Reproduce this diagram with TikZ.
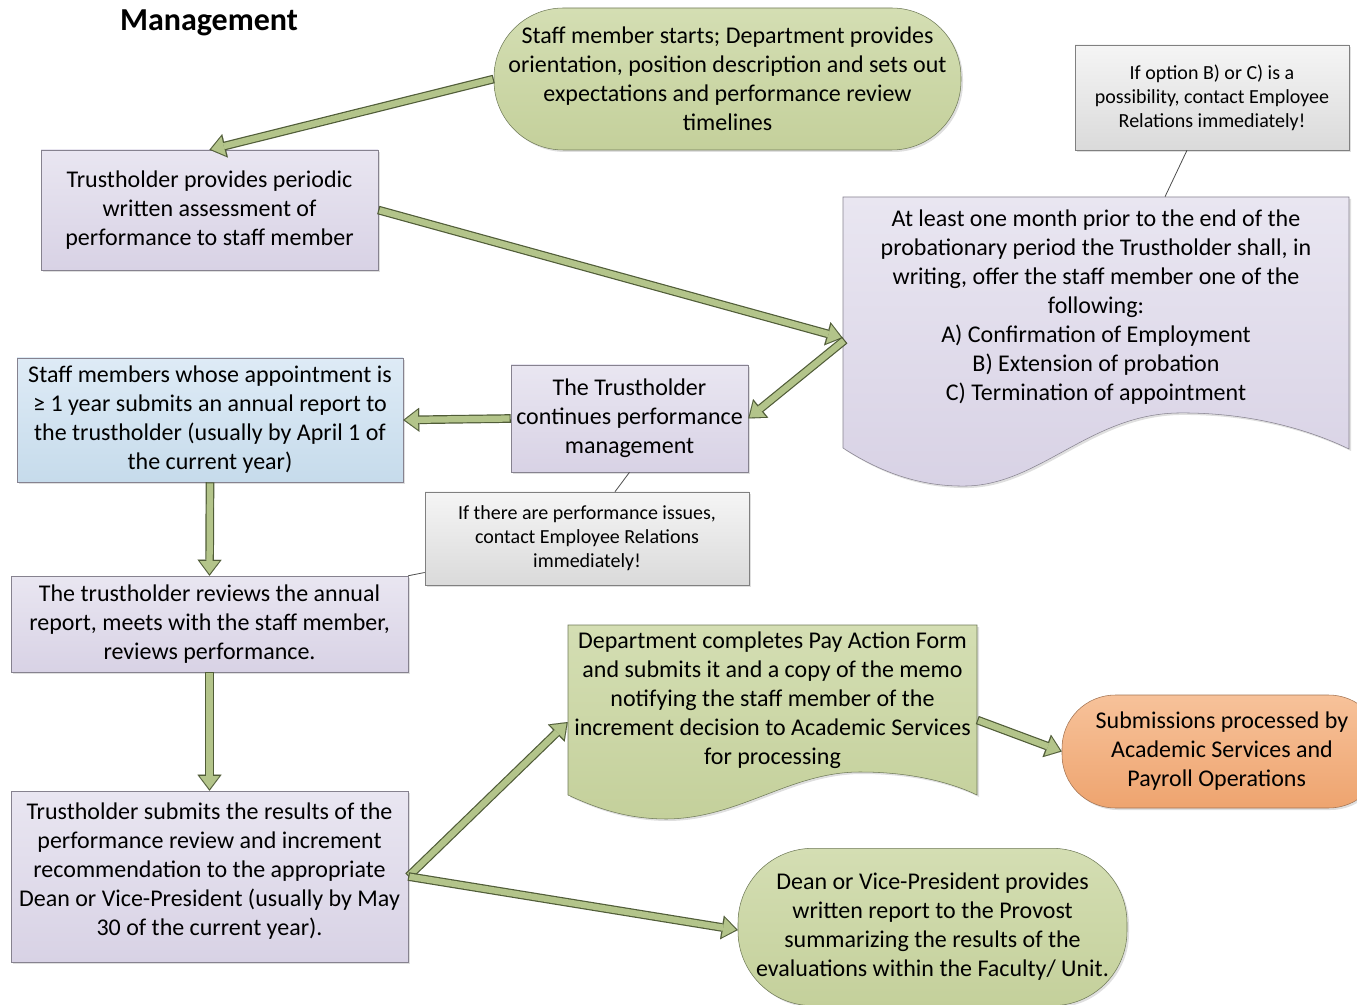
\documentclass[tikz,border=0pt]{standalone}
\usepackage{fontspec}
\setmainfont{Carlito}
\usepackage{xcolor}
\usetikzlibrary{positioning, arrows.meta, calc, shadows}
\definecolor{lavtop}{HTML}{E9E6F1}
\definecolor{lavbot}{HTML}{D8D2E5}
\definecolor{lavline}{HTML}{86828F}
\definecolor{bluetop}{HTML}{DEEBF6}
\definecolor{bluebot}{HTML}{C6DBEB}
\definecolor{greentop}{HTML}{D4DEB3}
\definecolor{greenbot}{HTML}{C4D09B}
\definecolor{greenline}{HTML}{6F7A58}
\definecolor{orangetop}{HTML}{F7C29A}
\definecolor{orangebot}{HTML}{EEA46F}
\definecolor{orangeline}{HTML}{A27352}
\definecolor{graytop}{HTML}{F5F5F5}
\definecolor{graybot}{HTML}{DADADA}
\definecolor{arrowfill}{HTML}{B3C48A}
\definecolor{arrowline}{HTML}{505C38}
\newcommand{\fatarrow}[2]{%
  \draw[flowrim](#1)--(#2);
  \draw[flowbody](#1)--(#2);}

\begin{document}
\begin{tikzpicture}[x=0.75pt, y=-0.75pt,
 font=\fontsize{18}{21.75}\selectfont,
 box/.style={draw=lavline, align=center, inner sep=2pt, top color=lavtop, bottom color=lavbot,
   drop shadow={shadow xshift=1.5pt, shadow yshift=-1.5pt, opacity=0.25}},
 bluebox/.style={box, top color=bluetop, bottom color=bluebot},
 pill/.style={box, draw=greenline, top color=greentop, bottom color=greenbot},
 orangepill/.style={box, draw=orangeline, top color=orangetop, bottom color=orangebot},
 note/.style={box, draw=gray, top color=graytop, bottom color=graybot,
   font=\fontsize{15}{18}\selectfont},
 doctext/.style={align=center, inner sep=0pt},
 docshape/.style={drop shadow={shadow xshift=1.5pt, shadow yshift=-1.5pt, opacity=0.25}},
 flowrim/.style={line width=6.5pt, draw=arrowline,
   -{Triangle[length=12pt, width=18pt, line width=0.01pt]}},
 flowbody/.style={line width=4.7pt, draw=arrowfill, shorten <=0.9pt, shorten >=1.4pt,
   -{Triangle[length=9.6pt, width=14.6pt, line width=0.01pt]}},
 tie/.style={draw=black!70, line width=0.6pt}]
\useasboundingbox (0,0) rectangle (1357,1005);

\node[font=\fontsize{24}{28}\selectfont\bfseries](title) at (209,23){Management};

\node[pill, minimum width=350.25pt, minimum height=106.5pt, rounded corners=52pt](start) at (727.5,79)
  {Staff member starts; Department provides\\orientation, position description and sets out\\expectations and performance review\\timelines};
\node[box, minimum width=252.75pt, minimum height=90pt](assess) at (209.5,210)
  {Trustholder provides periodic\\written assessment of\\performance to staff member};
\node[note, minimum width=205.5pt, minimum height=78.75pt](note1) at (1212,97.5)
  {If option B) or C) is a\\possibility, contact Employee\\Relations immediately!};

% wavy document, right
\path[docshape, draw=lavline, top color=lavtop, bottom color=lavbot]
  (843,197) -- (1349,197) -- (1349,449)
  .. controls (1310,430) and (1250,412) .. (1177,413)
  .. controls (1090,415) and (1040,484) .. (967,486)
  .. controls (920,487) and (880,472) .. (843,448) -- cycle;
\node[doctext, minimum width=379.5pt, minimum height=165pt](offer) at (1096,307)
  {At least one month prior to the end of the\\probationary period the Trustholder shall, in\\writing, offer the staff member one of the\\following:\\A) Confirmation of Employment\\B) Extension of probation\\C) Termination of appointment};

\node[box, minimum width=177.75pt, minimum height=80.25pt](cont) at (629.5,418.5)
  {The Trustholder\\continues performance\\management};
\node[bluebox, draw=lavline, minimum width=289.5pt, minimum height=93pt](annual) at (210,420)
  {Staff members whose appointment is\\≥ 1 year submits an annual report to\\the trustholder (usually by April 1 of\\the current year)};
\node[note, minimum width=243pt, minimum height=69.75pt](note2) at (587,538.5)
  {If there are performance issues,\\contact Employee Relations\\immediately!};
\node[box, minimum width=297.75pt, minimum height=72pt](review) at (209.5,624)
  {The trustholder reviews the annual\\report, meets with the staff member,\\reviews performance.};
\node[box, minimum width=297.75pt, minimum height=128.25pt](submit) at (209.5,876.5)
  {Trustholder submits the results of the\\performance review and increment\\recommendation to the appropriate\\Dean or Vice-President (usually by May\\30 of the current year).\\[-10pt]\mbox{}};

% wavy document, middle
\path[docshape, draw=greenline, top color=greentop, bottom color=greenbot]
  (568,625) -- (977,625) -- (977,795)
  .. controls (950,782) and (910,772) .. (860,772)
  .. controls (790,772) and (740,818) .. (667,819)
  .. controls (630,819) and (600,810) .. (568,795) -- cycle;
\node[doctext, minimum width=306.75pt, minimum height=105pt](payform) at (772.5,700)
  {Department completes Pay Action Form\\and submits it and a copy of the memo\\notifying the staff member of the\\increment decision to Academic Services\\for processing};

\node[orangepill, minimum width=240pt, minimum height=84.75pt, rounded corners=40pt](processed) at (1222,751.5)
  {Submissions processed by\\Academic Services and\\Payroll Operations\hspace*{8pt}};
\node[pill, minimum width=291.75pt, minimum height=118pt, rounded corners=56pt](dean) at (932.5,927)
  {Dean or Vice-President provides\\written report to the Provost\\summarizing the results of the\\evaluations within the Faculty/ Unit.};

% callout ties
\draw[tie]($(note1.south)+(-25,0)$)--($(offer.north)+(69,0)$);
\draw[tie](cont.south)--($(note2.north)+(28,0)$);
\draw[tie]($(note2.west)+(0,34)$)--(review.north east);

% flow
\fatarrow{start.west}{assess.north}
\fatarrow{assess.east}{$(offer.west)+(0,31)$}
\fatarrow{$(offer.west)+(2,33)$}{cont.east}
\fatarrow{cont.west}{annual.east}
\fatarrow{annual.south}{review.north}
\fatarrow{review.south}{submit.north}
\fatarrow{submit.east}{$(payform.west)+(0,22)$}
\fatarrow{submit.east}{$(dean.west)+(0,3)$}
\fatarrow{$(payform.east)+(0,20)$}{processed.west}

\end{tikzpicture}
\end{document}
